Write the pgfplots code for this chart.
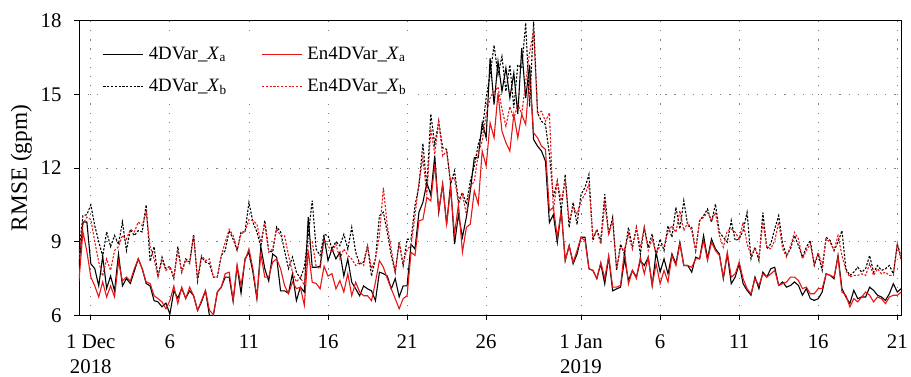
\documentclass[border=0pt]{standalone}
\usepackage{fontspec}
\setmainfont{Liberation Serif}
\usepackage{pgfplots}
\pgfplotsset{compat=1.18}
\usepackage{pgfplotstable}
\definecolor{myred}{RGB}{232,20,22}

\pgfplotstableread{
d A B C D
-0.75 8.0 8.6 7.4 8.3
-0.5 9.8 10.06 9.4 9.72
-0.25 9.8 10.1 8.6 10.0
0 8.1 10.5 7.56 9.9
0.25 7.9 9.65 7.2 9.0
0.5 7.2 9.0 6.75 8.17
0.75 8.4 8.4 7.36 7.6
1 7.1 9.4 6.75 8.3
1.25 7.6 8.8 7.2 7.83
1.5 7.0 9.25 6.75 8.64
1.75 8.5 8.9 8.2 8.8
2 7.2 9.8 7.4 9.25
2.25 7.5 8.64 7.56 9.1
2.5 7.3 9.5 7.4 9.5
2.75 7.8 9.25 7.9 9.4
3 8.3 9.45 8.3 9.8
3.25 7.9 9.4 7.9 9.65
3.5 7.3 10.5 7.36 10.2
3.75 7.2 8.2 7.3 8.8
4 6.6 8.8 6.8 8.3
4.25 6.55 7.56 6.68 7.56
4.5 6.35 8.37 6.55 8.25
4.75 6.5 7.9 6.27 7.83
5 6.05 8.0 6.6 8.0
5.25 7.0 7.5 7.2 7.56
5.5 6.7 8.8 6.48 8.64
5.75 7.1 7.76 7.15 7.76
6 6.7 8.3 6.68 8.25
6.25 7.0 8.17 7.15 8.1
6.5 6.8 9.3 6.8 9.25
6.75 6.2 7.4 6.2 7.5
7 6.55 8.37 6.61 8.44
7.25 7.0 8.17 7.02 8.23
7.5 6.0 8.1 6.21 8.3
7.75 6.0 7.56 6.03 7.56
8 6.95 7.56 6.95 7.56
8.25 7.15 8.44 7.15 8.44
8.5 7.56 8.64 7.7 8.98
8.75 7.56 9.45 7.76 9.5
9 6.57 9.1 6.61 9.25
9.25 8.0 8.64 8.03 8.64
9.5 6.9 9.4 7.22 9.32
9.75 8.3 9.4 8.23 9.4
10 8.57 10.6 8.71 9.9
10.25 7.76 9.8 7.9 9.86
10.5 6.68 9.4 6.75 9.72
10.75 8.8 8.8 8.5 8.98
11 7.9 9.86 7.56 9.72
11.25 7.4 8.64 7.56 8.57
11.5 8.5 8.57 8.17 8.71
11.75 8.37 9.6 8.3 9.52
12 7.0 9.4 7.9 9.25
12.25 7.0 8.64 7.22 9.25
12.5 6.9 7.9 6.88 8.44
12.75 7.7 8.37 7.36 7.76
13 6.6 7.76 7.09 7.36
13.25 7.15 7.5 7.15 7.56
13.5 6.95 7.96 6.41 7.22
13.75 10.0 9.25 8.64 8.9
14 7.96 10.67 7.35 9.0
14.25 7.96 8.7 7.3 8.0
14.5 8.0 8.44 7.08 7.9
14.75 9.18 9.3 8.0 9.1
15 8.23 9.25 7.6 8.84
15.25 8.7 8.7 7.7 8.57
15.5 8.3 9.0 7.08 8.9
15.75 8.57 8.84 7.42 8.3
16 7.6 9.3 6.95 8.7
16.25 8.3 8.7 7.7 8.44
16.5 7.35 9.58 6.8 8.3
16.75 7.08 8.57 7.35 8.03
17 6.8 8.1 6.95 8.17
17.25 7.2 8.17 6.8 8.03
17.5 7.08 8.84 6.8 8.84
17.75 7.0 7.6 6.6 7.9
18 6.6 8.3 7.35 8.3
18.25 7.76 10.05 8.23 9.25
18.5 7.7 10.2 7.96 11.2
18.75 7.6 9.38 7.5 9.65
19 7.08 8.44 7.08 8.7
19.25 7.5 7.76 6.68 7.76
19.5 6.75 9.0 6.27 8.97
19.75 7.2 8.03 6.68 8.1
20 7.2 9.1 6.8 8.7
20.25 8.9 9.1 8.57 8.84
20.5 8.7 10.46 8.44 10.05
20.75 10.2 11.27 9.85 11.4
21 10.6 13.0 9.9 12.4
21.25 11.4 11.2 10.8 10.9
21.5 10.9 14.2 10.66 13.6
21.75 12.5 12.96 12.15 12.56
22 10.19 13.9 10.26 13.9
22.25 11.34 12.82 11.34 12.49
22.5 9.7 12.76 9.72 12.69
22.75 11.34 11.34 11.14 11.47
23 8.9 11.88 9.31 11.61
23.25 10.1 10.66 10.53 10.53
23.5 9.18 11.0 8.57 10.93
23.75 10.0 10.53 9.58 10.12
24 11.07 11.47 9.72 11.2
24.25 12.42 12.08 11.07 11.47
24.5 12.42 12.96 10.53 12.56
24.75 13.84 13.5 12.69 13.1
25 13.23 14.85 12.08 14.18
25.25 16.47 15.8 13.84 14.85
25.5 14.58 17.0 13.23 15.1
25.75 16.34 15.8 15.05 15.3
26 15.12 16.54 13.5 14.4
26.25 16.07 15.12 13.03 13.7
26.5 14.85 16.2 12.69 14.5
26.75 15.87 14.45 14.18 14.0
27 14.2 16.2 13.23 14.6
27.25 16.88 16.07 14.18 14.2
27.5 14.85 17.9 13.77 15.5
27.75 16.2 14.5 15.8 16.7
28 13.16 17.96 13.43 17.6
28.25 12.89 14.24 13.23 14.24
28.5 12.69 13.9 12.89 14.31
28.75 12.28 13.77 12.76 13.9
29 9.78 12.56 10.26 14.24
29.25 10.1 10.8 10.4 10.26
29.5 8.97 11.47 9.18 11.47
29.75 10.26 10.26 10.26 10.66
30 8.23 11.74 8.23 11.47
30.25 8.84 9.58 8.84 9.85
30.5 8.1 10.6 8.16 10.4
30.75 8.5 9.7 8.64 10.12
31 9.18 10.93 9.18 10.66
31.25 9.18 11.2 9.04 10.93
31.5 7.9 11.74 7.9 11.34
31.75 7.83 9.05 7.83 9.18
32 7.5 9.5 7.5 9.45
32.25 8.1 9.05 8.16 8.9
32.5 7.28 10.93 7.5 10.53
32.75 8.37 9.3 8.43 9.31
33 7.0 10.0 7.15 9.85
33.25 7.08 7.83 7.15 7.9
33.5 7.15 8.9 7.22 8.77
33.75 8.3 8.5 8.64 8.64
34 7.42 9.58 7.28 9.31
34.25 7.83 8.77 7.83 8.7
34.5 7.55 9.58 7.5 9.58
34.75 8.23 8.5 8.37 8.77
35 8.03 9.58 7.69 9.58
35.25 8.37 8.77 8.37 8.64
35.5 7.22 9.32 7.22 9.11
35.75 8.57 8.44 8.1 8.5
36 7.76 9.11 7.29 8.84
36.25 8.3 8.64 7.83 8.84
36.5 7.69 9.65 7.36 9.38
36.75 8.5 9.18 8.44 9.65
37 8.1 10.4 8.03 9.38
37.25 8.98 9.52 8.91 10.26
37.5 8.03 10.67 8.03 9.45
37.75 8.03 9.65 8.03 9.79
38 7.76 9.59 7.96 9.45
38.25 8.37 8.64 8.3 8.64
38.5 8.3 9.86 8.3 9.86
38.75 9.25 10.06 9.05 9.99
39 8.3 10.33 8.23 10.19
39.25 9.11 9.79 8.98 9.86
39.5 8.71 10.53 8.64 10.19
39.75 8.5 9.38 8.44 9.25
40 7.49 9.18 7.56 8.78
40.25 8.5 8.98 8.57 9.45
40.5 7.29 9.86 7.56 9.52
40.75 7.56 9.05 7.69 9.38
41 8.1 9.11 8.17 9.11
41.25 7.29 9.45 7.49 9.79
41.5 7.02 10.19 7.09 8.91
41.75 6.82 8.3 6.88 8.44
42 7.56 8.78 7.49 8.71
42.25 7.09 8.23 7.22 8.37
42.5 7.76 10.19 7.69 9.79
42.75 7.56 8.71 7.56 8.78
43 7.9 8.91 7.69 8.71
43.25 7.96 9.52 7.83 9.05
43.5 7.22 10.06 7.22 9.79
43.75 7.36 8.91 7.29 8.71
44 7.15 8.44 7.36 8.37
44.25 7.22 8.71 7.56 8.84
44.5 7.36 9.25 7.56 9.38
44.75 7.22 8.84 7.42 9.11
45 6.82 8.37 7.09 8.3
45.25 7.09 8.78 7.15 8.64
45.5 6.68 9.05 6.88 8.91
45.75 6.61 8.03 6.88 8.1
46 6.68 8.5 7.09 8.57
46.25 6.95 7.83 7.09 8.03
46.5 7.69 9.18 7.69 9.11
46.75 7.63 9.05 7.63 8.98
47 7.49 8.64 7.56 8.64
47.25 8.44 8.98 8.37 9.25
47.5 7.09 9.45 6.95 8.44
47.75 6.75 7.9 6.82 7.83
48 6.48 7.63 6.34 7.56
48.25 7.02 7.76 6.68 7.63
48.5 6.68 7.96 6.55 7.63
48.75 6.75 7.76 6.75 7.69
49 6.75 7.9 6.95 7.63
49.25 7.15 8.44 6.82 8.1
49.5 7.02 7.76 6.55 7.63
49.75 6.82 8.03 6.75 7.9
50 6.75 7.83 6.68 7.69
50.25 6.61 7.9 6.48 7.76
50.5 6.88 8.03 6.75 7.63
50.75 7.29 7.69 6.82 7.63
51 6.95 8.91 6.82 8.91
51.25 7.09 8.37 6.95 8.23
}\datatable

\begin{document}
\begin{tikzpicture}
\begin{axis}[
  scale only axis,
  width=825.7bp, height=296bp,
  xmin=-0.75, xmax=51.25, ymin=6, ymax=18,
  xtick={0,5,10,15,20,25,31,36,41,46,51},
  xticklabels={{1 Dec\\2018},6,11,16,21,26,{1 Jan\\2019},6,11,16,21},
  xticklabel style={align=center, font=\fontsize{21}{25}\selectfont, yshift=-11bp},
  ytick={6,9,12,15,18},
  yticklabel style={font=\fontsize{21}{25}\selectfont, xshift=-9bp},
  /pgf/number format/assume math mode=true,
  tick align=outside, xtick pos=bottom, ytick pos=left,
  major tick length=5bp,
  tick style={black, line width=0.8bp},
  axis line style={line width=0.9bp},
  xmajorgrids, ymajorgrids,
  grid style={gray, line width=0.9bp, dash pattern=on 1.2bp off 8bp},
  ylabel={RMSE (gpm)},
  ylabel style={font=\fontsize{23.5}{27}\selectfont, yshift=2bp},
  no markers,
  legend columns=2,
  legend cell align=left,
  legend style={at={(rel axis cs:0.024,0.946)}, anchor=north west, draw=none, fill=white,
    inner xsep=4bp, inner ysep=2bp,
    font=\fontsize{19}{22}\selectfont,
    nodes={text height=14bp, text depth=5bp, inner ysep=6.5bp},
    /tikz/every odd column/.append style={column sep=3bp},
    /tikz/every even column/.append style={column sep=33bp}},
  legend image code/.code={\draw[#1] (0bp,0bp) -- (40bp,0bp);},
]
\addplot[black, line width=1.1bp] table[x=d, y=A] {\datatable};
\addlegendentry{4DVar\_\textit{X}\textsubscript{a}}
\addplot[myred, line width=1.1bp] table[x=d, y=C] {\datatable};
\addlegendentry{En4DVar\_\textit{X}\textsubscript{a}}
\addplot[black, line width=1.1bp, dash pattern=on 2.2bp off 1.6bp] table[x=d, y=B] {\datatable};
\addlegendentry{4DVar\_\textit{X}\textsubscript{b}}
\addplot[myred, line width=1.1bp, dash pattern=on 2.2bp off 1.6bp] table[x=d, y=D] {\datatable};
\addlegendentry{En4DVar\_\textit{X}\textsubscript{b}}
\path (rel axis cs:0,0) ++(-79.3bp,-59.3bp) coordinate (bbBL);
\path (rel axis cs:1,1) ++(6bp,20.7bp) coordinate (bbTR);
\end{axis}
\path (bbBL) rectangle (bbTR);
\end{tikzpicture}
\end{document}
